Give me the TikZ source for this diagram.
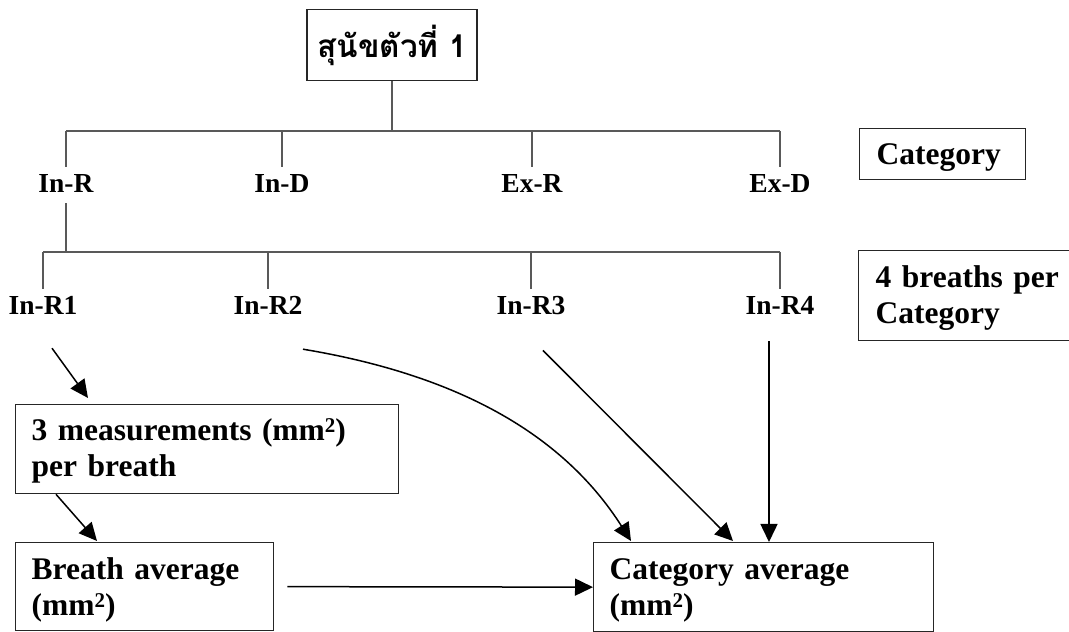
\documentclass[tikz,border=0pt]{standalone}
\usepackage{fontspec}
\setmainfont{Liberation Serif}
\newfontfamily\thaifont[Script=Thai]{Loma}
\usetikzlibrary{arrows.meta,positioning}
\newcommand\sqtwo{\raisebox{8pt}{\fontsize{21}{21}\selectfont 2}}
\begin{document}
\begin{tikzpicture}[x=1pt, y=1pt, font=\fontsize{31.5}{36}\selectfont\bfseries,
  box/.style = {draw=black!85, line width=1.3pt, inner xsep=16pt, inner ysep=0pt, align=left, anchor=north west},
  lbl/.style = {font=\fontsize{27.5}{32}\selectfont\bfseries, inner sep=3pt, anchor=base},
  tree/.style = {draw=black!65, line width=1.4pt},
  arr/.style = {line width=1.5pt, -{Triangle[length=18pt,width=17pt]}}]
\useasboundingbox (0,0) rectangle (1069,632);
\node[draw=black!85, line width=1.3pt, minimum width=170pt, minimum height=71pt, font=\fontsize{31.5}{36}\selectfont\thaifont\bfseries] (dog) at (392,587) {สุนัขตัวที่ 1};
\node[box, inner xsep=17pt, text width=132pt, text height=36pt, text depth=15pt] (cat) at (859,504) {Category};
\node[box, inner xsep=17pt, text width=190pt, text height=37pt, text depth=53pt] (per) at (858,382) {4 breaths per\\Category};
\node[lbl] (inr) at (66,439) {In-R};
\node[lbl] (ind) at (282,439) {In-D};
\node[lbl] (exr) at (532,439) {Ex-R};
\node[lbl] (exd) at (780,439) {Ex-D};
\node[lbl] (r1) at (43,317) {In-R1};
\node[lbl] (r2) at (268,317) {In-R2};
\node[lbl] (r3) at (531,317) {In-R3};
\node[lbl] (r4) at (780,317) {In-R4};
\node[box, text width=351pt, text height=36pt, text depth=53pt] (meas) at (15,228) {3 measurements (mm\sqtwo)\\per breath};
\node[box, text width=226pt, text height=37pt, text depth=51pt] (bavg) at (15,90) {Breath average\\(mm\sqtwo)};
\node[box, text width=308pt, text height=37pt, text depth=52pt] (cavg) at (593,90) {Category average\\(mm\sqtwo)};
\coordinate (j1) at (392,501);
\coordinate (j2) at (66,380);
\coordinate (r4s) at ([shift={(-11,-23)}]r4.south);
\draw[tree] (dog) -- (j1);
\draw[tree] (inr.north |- j1) -- (exd.north |- j1);
\foreach \n in {inr,ind,exr,exd}
  \draw[tree] (\n.north |- j1) -- ([yshift=5pt]\n.north);
\draw[tree] ([yshift=-7pt]inr.south) -- (j2);
\draw[tree] (r1.north |- j2) -- (r4.north |- j2);
\foreach \n in {r1,r2,r3,r4}
  \draw[tree] (\n.north |- j2) -- ([yshift=5pt]\n.north);
\draw[arr] ([shift={(9,-30)}]r1.south) -- ([shift={(73,6)}]meas.north west);
\draw[arr] ([xshift=41pt]meas.south west) -- ([shift={(82,1)}]bavg.north west);
\draw[arr] ([xshift=13pt]bavg.east) -- (cavg.west);
\draw[arr] ([shift={(35,-31)}]r2.south) .. controls +(150,-25) and +(-70,110) .. ([shift={(38,1)}]cavg.north west);
\draw[arr] ([shift={(12,-32)}]r3.south) -- ([shift={(140,1)}]cavg.north west);
\draw[arr] (r4s) -- (r4s |- cavg.north);
\end{tikzpicture}
\end{document}
